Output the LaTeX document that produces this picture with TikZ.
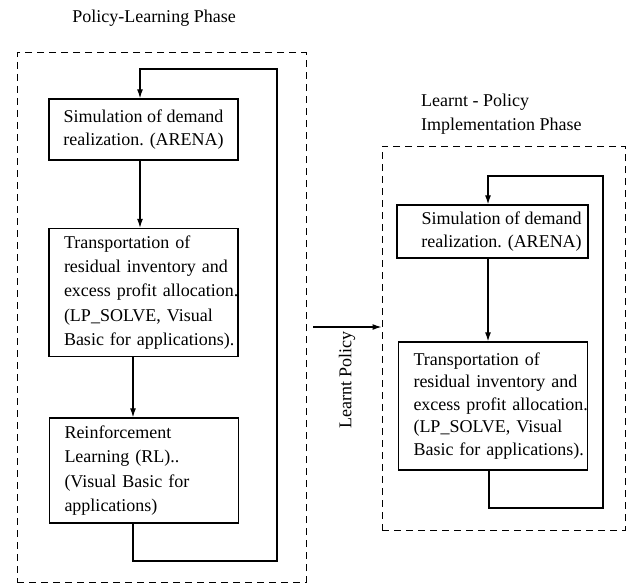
\documentclass[tikz,border=0pt]{standalone}
\usepackage{fontspec}
\setmainfont{Liberation Serif}
\usetikzlibrary{arrows.meta,calc}
\tikzset{
  box/.style={draw, line width=1.3pt, inner sep=0pt, font=\fontsize{18}{23.5}\selectfont},
  leftbox/.style={box, inner xsep=15pt, text width=159pt, align=left},
  phase/.style={draw, line width=1pt, dash pattern=on 7pt off 5pt},
  conn/.style={line width=1.2pt},
  arr/.style={conn, -{Latex[length=9pt,width=6pt]}},
  ttl/.style={font=\fontsize{18}{24}\selectfont, inner sep=0pt}
}
\begin{document}
\begin{tikzpicture}[x=1pt,y=-1pt]
\useasboundingbox (0,0) rectangle (631,583);
% phase frames
\node[phase, minimum width=289pt, minimum height=529pt] (LP) at (161.5,317.5) {};
\node[phase, minimum width=243pt, minimum height=384pt] (RP) at (503.5,338) {};
% titles
\node[ttl] (T1) at (154,18) {Policy-Learning Phase};
\node[ttl, anchor=west, align=left] (T2) at (421,114) {Learnt - Policy\\Implementation Phase};
% left boxes
\node[box, minimum width=189pt, minimum height=61pt, align=center] (L1) at (143.5,129.5) {Simulation of demand\\realization. (ARENA)};
\node[leftbox, minimum height=128pt, font=\fontsize{18}{24.3}\selectfont] (L2) at (143.5,292.5) {\mbox{Transportation of}\\\mbox{residual inventory and}\\\mbox{excess profit allocation.}\\\mbox{(LP\_SOLVE, Visual}\\\mbox{Basic for applications).}};
\node[leftbox, minimum height=105pt, font=\fontsize{18}{24.5}\selectfont] (L3) at (144,470.5) {\mbox{Reinforcement}\\\mbox{Learning (RL)..}\\\mbox{(Visual Basic for}\\\mbox{applications)}};
% right boxes
\node[box, minimum width=191pt, minimum height=53pt, align=center] (R1) at (492.5,231.5) {\hspace*{18pt}Simulation of demand\\\hspace*{18pt}realization. (ARENA)};
\node[leftbox, minimum height=128pt, font=\fontsize{18}{22.5}\selectfont] (R2) at (493,406) {\mbox{Transportation of}\\\mbox{residual inventory and}\\\mbox{excess profit allocation.}\\\mbox{(LP\_SOLVE, Visual}\\\mbox{Basic for applications).}};
% left loop
\coordinate (Lc1) at (133,561);
\coordinate (Lc2) at (277,561);
\coordinate (Lc3) at (277,69);
\coordinate (Lc4) at (140,69);
\draw[arr] (L3.south -| Lc1) -- (Lc1) -- (Lc2) -- (Lc3) -- (Lc4) -- (L1.north -| Lc4);
\draw[arr] (L1.south -| Lc4) -- (L2.north -| Lc4);
\draw[arr] (L2.south -| Lc1) -- (L3.north -| Lc1);
% right loop
\coordinate (Rc1) at (489,508);
\coordinate (Rc2) at (603,508);
\coordinate (Rc3) at (603,176);
\coordinate (Rc4) at (488,176);
\draw[arr] (R2.south -| Rc1) -- (Rc1) -- (Rc2) -- (Rc3) -- (Rc4) -- (R1.north -| Rc4);
\draw[arr] (R1.south -| Rc4) -- (R2.north -| Rc4);
% transfer arrow
\coordinate (M0) at (313,327);
\draw[arr] (M0) -- (RP.west |- M0);
\node[ttl, rotate=90] (ML) at (347,380) {Learnt Policy};
\end{tikzpicture}
\end{document}
